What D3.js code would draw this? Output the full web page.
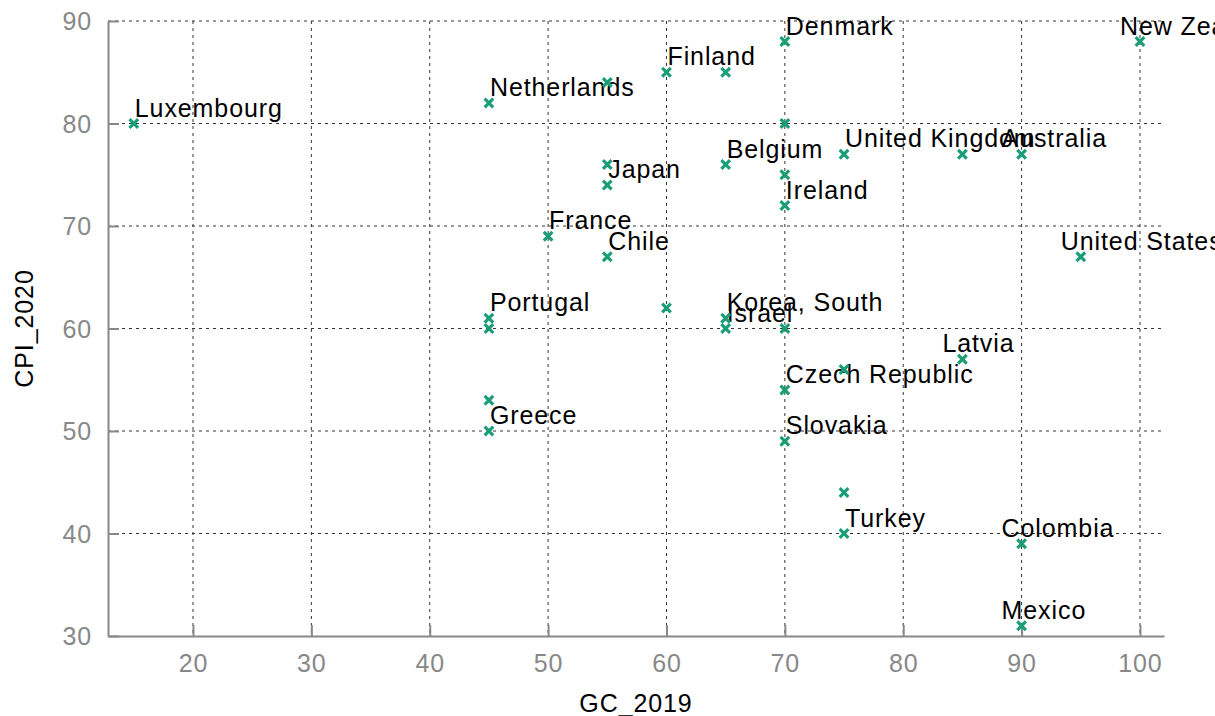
<!DOCTYPE html>
<html>
<head>
<meta charset="utf-8">
<script src="https://cdn.jsdelivr.net/npm/d3@7"></script>
<style>
  html, body { margin: 0; padding: 0; background: #fff; }
  svg { display: block; font-family: "Liberation Sans", Arial, Helvetica, sans-serif; }
  text { letter-spacing: 0.9px; }
</style>
</head>
<body>
<svg id="chart" width="1215" height="716"></svg>
<script>
// ---- data ----
const labels = ["Luxembourg", "Netherlands", "", "Finland", "", "Denmark", "New Zealand", "",
  "United Kingdom", "", "Australia", "", "Japan", "Belgium", "", "Ireland", "France", "Chile",
  "United States", "", "Portugal", "", "Korea, South", "Israel", "", "", "Latvia",
  "Czech Republic", "", "Greece", "Slovakia", "", "Turkey", "Colombia", "Mexico"];
const gc2019 = [15, 45, 55, 60, 65, 70, 100, 70,
  75, 85, 90, 55, 55, 65, 70, 70, 50, 55,
  95, 60, 45, 45, 65, 65, 70, 75, 85,
  70, 45, 45, 70, 75, 75, 90, 90];
const cpi2020 = [80, 82, 84, 85, 85, 88, 88, 80,
  77, 77, 77, 76, 74, 76, 75, 72, 69, 67,
  67, 62, 61, 60, 61, 60, 60, 56, 57,
  54, 53, 50, 49, 44, 40, 39, 31];
const xTicks = [20, 30, 40, 50, 60, 70, 80, 90, 100];
const yTicks = [30, 40, 50, 60, 70, 80, 90];
const xTitle = "GC_2019";
const yTitle = "CPI_2020";

// ---- layout ----
const svg = d3.select("#chart");
const pl = 108, pr = 1164, pt = 21, pb = 636;
const x = d3.scaleLinear().domain([12.82, 102.03]).range([pl, pr]);
const y = d3.scaleLinear().domain([30, 90]).range([pb, pt]);
const axisColor = "#888888";
const green = "#1b9e77";

// grid
const grid = svg.append("g");
grid.selectAll("line.h").data(yTicks.filter(d => d > 30)).join("line")
  .attr("x1", pl).attr("x2", pr)
  .attr("y1", d => y(d)).attr("y2", d => y(d))
  .attr("stroke", "#333").attr("stroke-width", 1).attr("stroke-dasharray", "3,4");
grid.selectAll("line.v").data(xTicks).join("line")
  .attr("x1", d => x(d)).attr("x2", d => x(d))
  .attr("y1", pt).attr("y2", pb)
  .attr("stroke", "#333").attr("stroke-width", 1).attr("stroke-dasharray", "3,4");

// axes
const xAxis = svg.append("g").attr("transform", `translate(0,${pb})`)
  .call(d3.axisBottom(x).tickValues(xTicks).tickSizeInner(-11).tickSizeOuter(0).tickPadding(18));
const yAxis = svg.append("g").attr("transform", `translate(${pl},0)`)
  .call(d3.axisLeft(y).tickValues(yTicks).tickSizeInner(-11).tickSizeOuter(0).tickPadding(16));
[xAxis, yAxis].forEach(a => {
  a.select(".domain").attr("stroke", axisColor).attr("stroke-width", 2);
  a.selectAll(".tick line").attr("stroke", axisColor).attr("stroke-width", 2);
  a.selectAll(".tick text").attr("fill", axisColor).style("font-size", "25px")
    .style("font-family", "'Liberation Sans', Arial, sans-serif");
});
xAxis.selectAll(".tick text").attr("dy", "0.71em");
yAxis.selectAll(".tick text").attr("dy", "0.35em");

// axis titles
svg.append("text").attr("x", (pl + pr) / 2).attr("y", 712)
  .attr("text-anchor", "middle").attr("fill", "#000").style("font-size", "25px").text(xTitle);
svg.append("text").attr("transform", `translate(33,${(pt + pb) / 2}) rotate(-90)`)
  .attr("text-anchor", "middle").attr("fill", "#000").style("font-size", "25px").text(yTitle);

// data
const pts = gc2019.map((g, i) => ({ g, c: cpi2020[i], name: labels[i] }));

// labels
svg.append("g").selectAll("text").data(pts.filter(d => d.name)).join("text")
  .attr("x", d => x(d.g) + (d.g >= 85 ? -20 : 1))
  .attr("y", d => y(d.c) - 7)
  .attr("fill", "#000").style("font-size", "25px")
  .text(d => d.name);

// markers (x-shaped crosses)
const s = 4.3;
svg.append("g").selectAll("path").data(pts).join("path")
  .attr("d", d => {
    const cx = x(d.g), cy = y(d.c);
    return `M${cx - s},${cy - s}L${cx + s},${cy + s}M${cx - s},${cy + s}L${cx + s},${cy - s}`;
  })
  .attr("stroke", green).attr("stroke-width", 3.2).attr("fill", "none");
</script>
</body>
</html>
